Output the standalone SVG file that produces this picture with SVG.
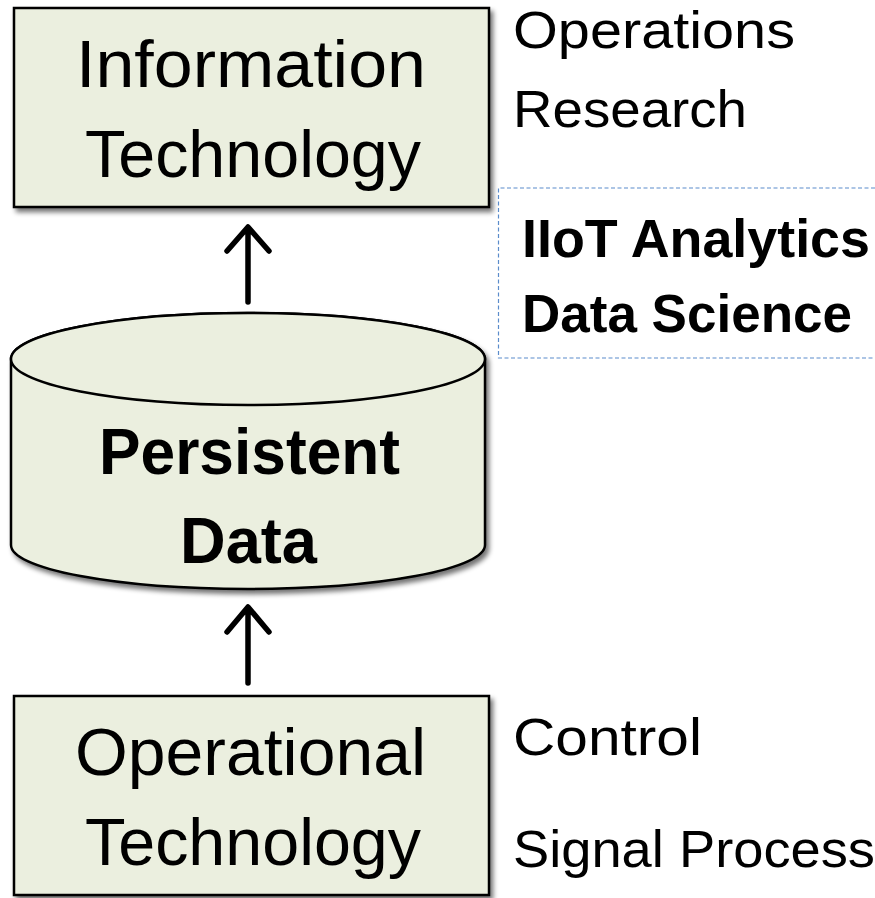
<svg xmlns="http://www.w3.org/2000/svg" width="875" height="898" viewBox="0 0 875 898">
  <style>
    .box { fill: #ebefdf; stroke: #000; stroke-width: 2.5; }
    .lbl { font-family: "Liberation Sans", Arial, sans-serif; fill: #000; }
    .big { font-size: 66px; }
    .side { font-size: 52px; }
    .bold { font-weight: bold; }
    .conn { stroke: #000; stroke-width: 5.5; fill: none; stroke-linecap: round; stroke-linejoin: round; }
  </style>
  <defs>
    <filter id="shadow" x="-10%" y="-10%" width="125%" height="130%">
      <feGaussianBlur in="SourceAlpha" stdDeviation="2.5"/>
      <feOffset dx="3" dy="4" result="b"/>
      <feComponentTransfer><feFuncA type="linear" slope="0.55"/></feComponentTransfer>
      <feMerge><feMergeNode/><feMergeNode in="SourceGraphic"/></feMerge>
    </filter>
  </defs>
  <rect width="875" height="898" fill="#fff"/>

  <!-- Information Technology -->
  <g id="it">
    <rect class="box" x="14" y="8" width="475" height="199" filter="url(#shadow)"/>
    <text class="lbl big" x="251" y="87" text-anchor="middle" textLength="350" lengthAdjust="spacingAndGlyphs">Information</text>
    <text class="lbl big" x="253" y="177" text-anchor="middle" textLength="336" lengthAdjust="spacingAndGlyphs">Technology</text>
  </g>

  <!-- Persistent Data store -->
  <g id="data">
    <path class="box" filter="url(#shadow)" d="M11,359 L11,545 A237,44 0 0 0 485,545 L485,359 A237,46 0 0 0 11,359 Z"/>
    <ellipse class="box" cx="248" cy="359" rx="237" ry="46"/>
    <text class="lbl bold" font-size="64" x="249.5" y="474" text-anchor="middle" textLength="301" lengthAdjust="spacingAndGlyphs">Persistent</text>
    <text class="lbl bold" font-size="64" x="248.5" y="563" text-anchor="middle" textLength="137" lengthAdjust="spacingAndGlyphs">Data</text>
  </g>

  <!-- Operational Technology -->
  <g id="ot">
    <rect class="box" x="14" y="696" width="475" height="199" filter="url(#shadow)"/>
    <text class="lbl big" x="250.5" y="775" text-anchor="middle" textLength="351" lengthAdjust="spacingAndGlyphs">Operational</text>
    <text class="lbl big" x="253" y="865" text-anchor="middle" textLength="336" lengthAdjust="spacingAndGlyphs">Technology</text>
  </g>

  <!-- Analytics annotation -->
  <g id="analytics">
    <path d="M875,188 L498.5,188 L498.5,358 L875,358" fill="none" stroke="#5b8ccb" stroke-width="1.2" stroke-dasharray="4,2.5"/>
    <text class="lbl bold" font-size="53" x="522" y="257" textLength="348" lengthAdjust="spacingAndGlyphs">IIoT Analytics</text>
    <text class="lbl bold" font-size="53" x="522" y="332" textLength="330" lengthAdjust="spacingAndGlyphs">Data Science</text>
  </g>

  <!-- Side labels -->
  <g id="or">
    <text class="lbl side" x="513" y="48" textLength="282" lengthAdjust="spacingAndGlyphs">Operations</text>
    <text class="lbl side" x="513" y="127" textLength="234" lengthAdjust="spacingAndGlyphs">Research</text>
  </g>
  <g id="ctrl">
    <text class="lbl side" x="513" y="755" textLength="189" lengthAdjust="spacingAndGlyphs">Control</text>
    <text class="lbl side" x="513" y="867" textLength="362" lengthAdjust="spacingAndGlyphs">Signal Process</text>
  </g>

  <!-- Connectors -->
  <g id="connectors">
    <path class="conn" d="M248,302 L248,228 M227,251 L248,227 L269,251"/>
    <path class="conn" d="M248,683 L248,608 M227,632 L248,607 L269,632"/>
  </g>
</svg>
